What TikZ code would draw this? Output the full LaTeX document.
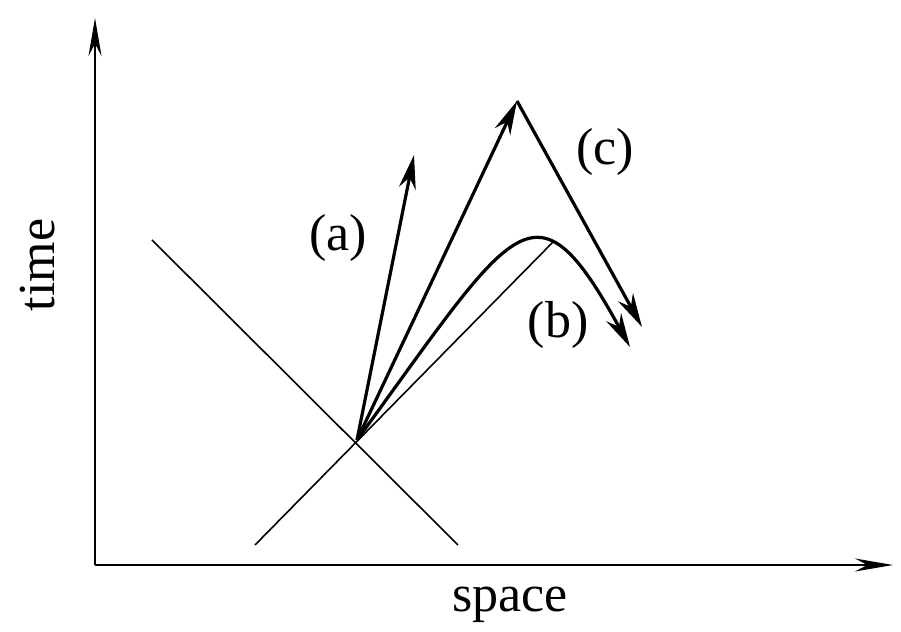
\documentclass[tikz,border=0pt]{standalone}
\usepackage{fontspec}
\setmainfont{Liberation Serif}
\usetikzlibrary{arrows.meta}

\begin{document}
\begin{tikzpicture}[
    x=0.5pt, y=0.5pt,
    axis/.style={
        line width=1pt,
        -{Stealth[length=19pt, width=6.5pt]}
    },
    path/.style={
        line width=1.6pt,
        -{Stealth[length=17pt, width=8.5pt]}
    },
    cone/.style={line width=0.8pt},
    lbl/.style={font=\fontsize{26}{30}\selectfont, inner sep=0pt}
]
\useasboundingbox (0,0) rectangle (901,632);

% === Axes ===
\coordinate (orig) at (95,67);
\coordinate (ttop) at (95,614);
\coordinate (send) at (893,67);
\draw[axis] (orig) -- (ttop);
\draw[axis] (orig) -- (send);
\node[lbl, rotate=90] (time) at (38,367) {time};
\node[lbl] (space) at (510,27) {space};

% === Light cone ===
\coordinate (ev) at (357,192);
\coordinate (cl1) at (152,392);
\coordinate (cl2) at (458,87);
\coordinate (cr1) at (255,87);
\coordinate (cr2) at (553,390);
\draw[cone] (cl1) -- (cl2);
\draw[cone] (cr1) -- (cr2);

% === Paths ===
\coordinate (atip) at (414,477);
\coordinate (apex) at (517,531);
\coordinate (ctip) at (642,305);
\coordinate (btip) at (630,285);
\draw[path] (ev) -- (atip);
\draw[path] (ev) -- (apex);
\draw[path] (apex) -- (ctip);
\draw[path] (ev) .. controls (516,410) and (534,460) .. (btip);

% === Labels ===
\node[lbl] (la) at (338,394) {(a)};
\node[lbl] (lb) at (558,307) {(b)};
\node[lbl] (lc) at (605,480) {(c)};

\end{tikzpicture}
\end{document}
